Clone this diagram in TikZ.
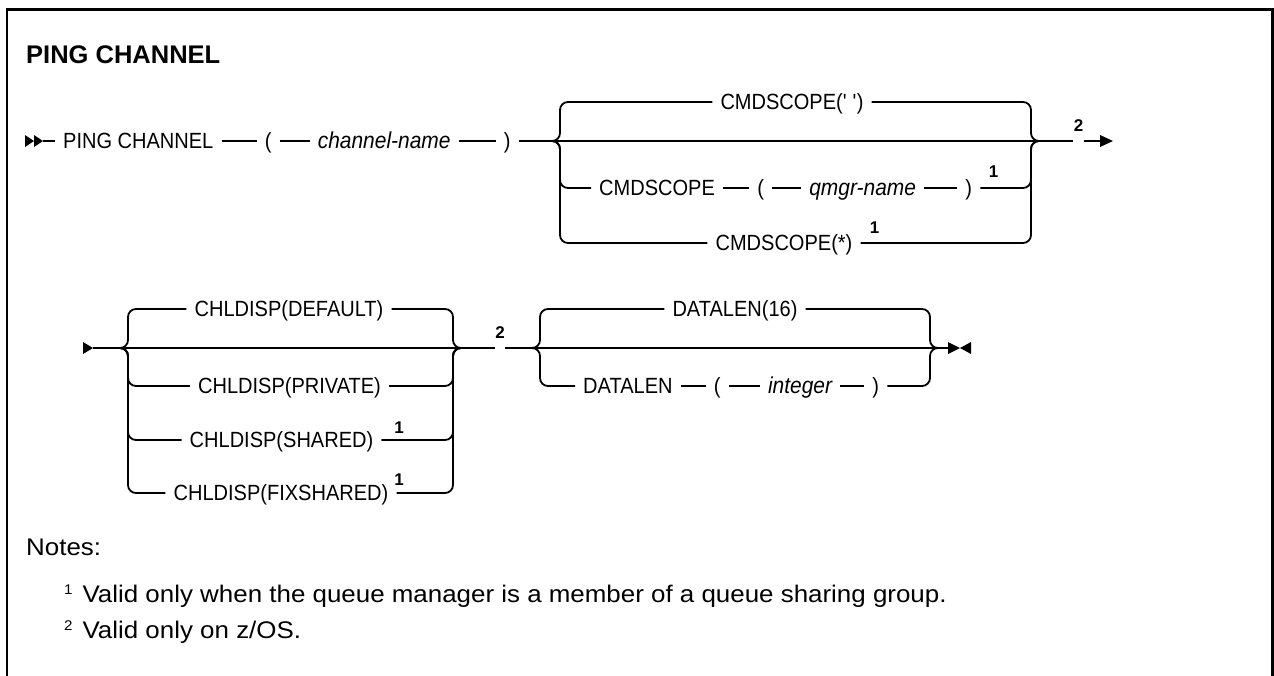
\documentclass[tikz,border=0pt]{standalone}
\usepackage{fontspec}
\setmainfont{Liberation Sans}
\newfontfamily\diagfamily{Liberation Sans}[FakeStretch=0.91]
\newfontfamily\notefamily{Liberation Sans}[FakeStretch=1.08]
\usetikzlibrary{positioning}
\newcommand{\kwfont}{\diagfamily\fontsize{22}{26}\selectfont}
\newcommand{\varfont}{\diagfamily\fontsize{23}{26}\selectfont\itshape}
\newcommand{\numfont}{\fontsize{17}{20}\selectfont\bfseries}
\newcommand{\titlefont}{\fontsize{25.5}{30}\selectfont\bfseries}
\newcommand{\notefont}{\notefamily\fontsize{24}{28}\selectfont}
\newcommand{\notemark}[1]{\raisebox{8pt}{\fontsize{14}{16}\selectfont #1}\hspace{10pt}}
% filled rail head: base x, rail y, length (negative points left)
\newcommand{\railhead}[3]{\fill (#1,#2-6) -- (#1+#3,#2) -- (#1,#2+6) -- cycle;}
\tikzset{
  rail/.style={draw=black, line width=1.8pt},
  branch/.style={rail, rounded corners=8pt},
  kw/.style={
    font=\kwfont, inner xsep=8pt, inner ysep=0pt,
    text height=15.8pt, text depth=0pt
  },
  varname/.style={kw, font=\varfont},
  supnum/.style={font=\numfont, inner sep=0pt},
  gapnum/.style={supnum, inner xsep=0.5pt, text depth=9pt, anchor=south},
  notetext/.style={font=\notefont, inner sep=0pt},
  panelframe/.style={draw=black, line width=2.2pt}
}

\begin{document}
\begin{tikzpicture}[x=1pt, y=-1pt]
\useasboundingbox (0,0) rectangle (1274,675);

% Panel frame and heading
\draw[panelframe] (7,700) -- (7,9.5) -- (1272.5,9.5) -- (1272.5,700);
\node[anchor=base west, inner sep=0pt, font=\titlefont] (title) at (26,63) {PING CHANNEL};

% Row 1: command and channel name
\railhead{25}{141}{9}
\railhead{34}{141}{9}
\coordinate (st1) at (43,141);
\node[kw, anchor=west] (ping) at (55,141) {PING CHANNEL};
\node[kw, right=35pt of ping] (lp1) {(};
\node[varname, right=30pt of lp1] (chname) {channel-name};
\node[kw, right=37pt of chname] (rp1) {)};

% CMDSCOPE choice
\coordinate (cmdtip) at (552,141);
\coordinate (cmdL) at (560,141);
\coordinate (cmdR) at (1031,141);
\coordinate (cmdRtip) at (1039,141);
\node[kw] (scope0) at (792,102) {CMDSCOPE(\textquotesingle\ \textquotesingle)};
\node[kw, anchor=west] (scope1) at (591,188) {CMDSCOPE};
\node[kw, right=26pt of scope1] (lp2) {(};
\node[varname, right=29pt of lp2] (qmgr) {qmgr-name};
\node[kw, right=33pt of qmgr] (rp2) {)};
\node[supnum] (fn1a) at (993.5,172) {1};
\node[kw] (scope2) at (784,243) {CMDSCOPE(*)};
\node[supnum] (fn1b) at (874.5,227.5) {1};
\node[gapnum] (fn2a) at (1078.5,141) {2};
\coordinate (end1) at (1100,141);
\railhead{1100}{141}{13}

% Row 1 rails
\draw[rail] (st1) -- (ping);
\draw[rail] (ping) -- (lp1) -- (chname) -- (rp1) -- (cmdtip) -- (cmdRtip) -- (fn2a.south west);
\draw[rail] (fn2a.south east) -- (end1);
\draw[rail] (scope1) -- (lp2) -- (qmgr) -- (rp2);
\foreach \o in {scope0, scope1, scope2}
  \draw[branch] (cmdtip) -- (cmdL) |- (\o);
\foreach \o in {scope0, rp2, scope2}
  \draw[branch] (\o) -| (cmdR) -- (cmdRtip);

% Row 2: CHLDISP choice
\railhead{83}{348}{10}
\coordinate (st2) at (93,348);
\coordinate (chdtip) at (120,348);
\coordinate (chdL) at (128,348);
\coordinate (chdR) at (453,348);
\coordinate (chdRtip) at (461,348);
\node[kw] (chd0) at (289,309) {CHLDISP(DEFAULT)};
\node[kw] (chd1) at (289.5,386) {CHLDISP(PRIVATE)};
\node[kw] (chd2) at (281.5,440) {CHLDISP(SHARED)};
\node[kw] (chd3) at (281,493) {CHLDISP(FIXSHARED)};
\node[supnum] (fn1c) at (399,428) {1};
\node[supnum] (fn1d) at (399,480) {1};
\node[gapnum] (fn2b) at (500,348) {2};

% DATALEN choice
\coordinate (dattip) at (532,348);
\coordinate (datL) at (540,348);
\coordinate (datR) at (930,348);
\coordinate (datRtip) at (938,348);
\node[kw] (dat0) at (735,309) {DATALEN(16)};
\node[kw, anchor=west] (dat1) at (575,386) {DATALEN};
\node[kw, right=25pt of dat1] (lp3) {(};
\node[varname, right=31pt of lp3] (intg) {integer};
\node[kw, right=24pt of intg] (rp3) {)};
\coordinate (end2) at (948,348);
\railhead{948}{348}{12}
\railhead{971}{348}{-11}

% Row 2 rails
\draw[rail] (st2) -- (chdtip) -- (chdRtip) -- (fn2b.south west);
\draw[rail] (fn2b.south east) -- (dattip) -- (datRtip) -- (end2);
\draw[rail] (dat1) -- (lp3) -- (intg) -- (rp3);
\foreach \o in {chd0, chd1, chd2, chd3} {
  \draw[branch] (chdtip) -- (chdL) |- (\o);
  \draw[branch] (\o) -| (chdR) -- (chdRtip);
}
\foreach \o in {dat0, dat1}
  \draw[branch] (dattip) -- (datL) |- (\o);
\foreach \o in {dat0, rp3}
  \draw[branch] (\o) -| (datR) -- (datRtip);

% Notes
\node[notetext, anchor=base west] (notes) at (26,555) {Notes:};
\node[notetext, anchor=base west] (note1) at (64,602)
  {\notemark{1}Valid only when the queue manager is a member of a queue sharing group.};
\node[notetext, anchor=base west] (note2) at (64,638) {\notemark{2}Valid only on z/OS.};

\end{tikzpicture}
\end{document}
